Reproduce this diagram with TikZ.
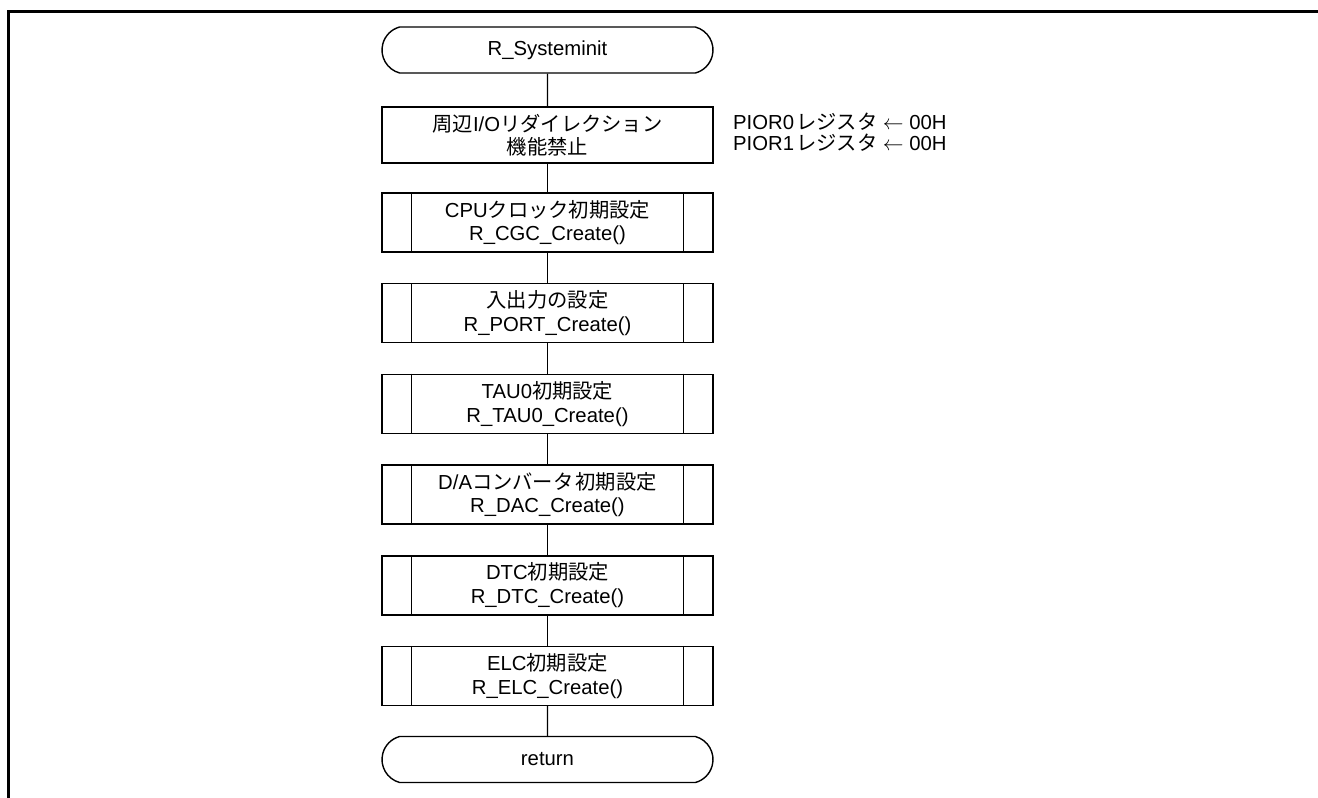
\documentclass[tikz,border=0pt]{standalone}
\usepackage{fontspec}
\setmainfont{Liberation Sans}
\newfontfamily\jp{Noto Sans CJK JP}
\usetikzlibrary{shapes.misc}
\begin{document}
\begin{tikzpicture}[x=1pt,y=-1pt,
  every node/.style={font=\fontsize{20.3}{23.5}\selectfont, align=center, inner sep=0pt},
  term/.style={draw, line width=1.4pt, rounded rectangle, rounded rectangle arc length=150, minimum width=331pt, minimum height=46pt},
  proc/.style={draw, line width=1.4pt, rectangle, minimum width=331pt, minimum height=56pt},
  subp/.style={draw, line width=1.4pt, rectangle, minimum width=331pt, minimum height=59pt},
  conn/.style={line width=1.4pt},
  frame/.style={line width=3pt}]
\useasboundingbox (0,0) rectangle (1318,798);
\draw[frame] (8,798) -- (8,11) -- (1318,11);

\node[term] (start) at (547.5,50) {R\_Systeminit};
\node[proc] (p1) at (547.5,135) {{\jp 周辺}I/O{\jp リダイレクション}\\{\jp 機能禁止}};
\node[subp] (s1) at (547.5,222.5) {CPU{\jp クロック初期設定}\\R\_CGC\_Create()};
\node[subp] (s2) at (547.5,313.2) {{\jp 入出力の設定}\\R\_PORT\_Create()};
\node[subp] (s3) at (547.5,403.9) {TAU0{\jp 初期設定}\\R\_TAU0\_Create()};
\node[subp] (s4) at (547.5,494.5) {D/A{\jp コンバータ\hspace{2pt}初期設定}\\R\_DAC\_Create()};
\node[subp] (s5) at (547.5,585.3) {DTC{\jp 初期設定}\\R\_DTC\_Create()};
\node[subp] (s6) at (547.5,676) {ELC{\jp 初期設定}\\R\_ELC\_Create()};
\node[term] (ret) at (547.5,759.5) {return};

\foreach \n in {s1,s2,s3,s4,s5,s6} {
  \draw[conn] ([xshift=30pt]\n.north west) -- ([xshift=30pt]\n.south west);
  \draw[conn] ([xshift=-30pt]\n.north east) -- ([xshift=-30pt]\n.south east);
}

\draw[conn] (start) -- (p1);
\draw[conn] (p1) -- (s1);
\draw[conn] (s1) -- (s2);
\draw[conn] (s2) -- (s3);
\draw[conn] (s3) -- (s4);
\draw[conn] (s4) -- (s5);
\draw[conn] (s5) -- (s6);
\draw[conn] (s6) -- (ret);

\node[anchor=west, align=left, font=\fontsize{20.3}{21}\selectfont] (note) at (733,132)
  {PIOR0{\jp\hspace{2pt}レジスタ} $\leftarrow$ 00H\\PIOR1{\jp\hspace{2pt}レジスタ} $\leftarrow$ 00H};
\end{tikzpicture}
\end{document}
